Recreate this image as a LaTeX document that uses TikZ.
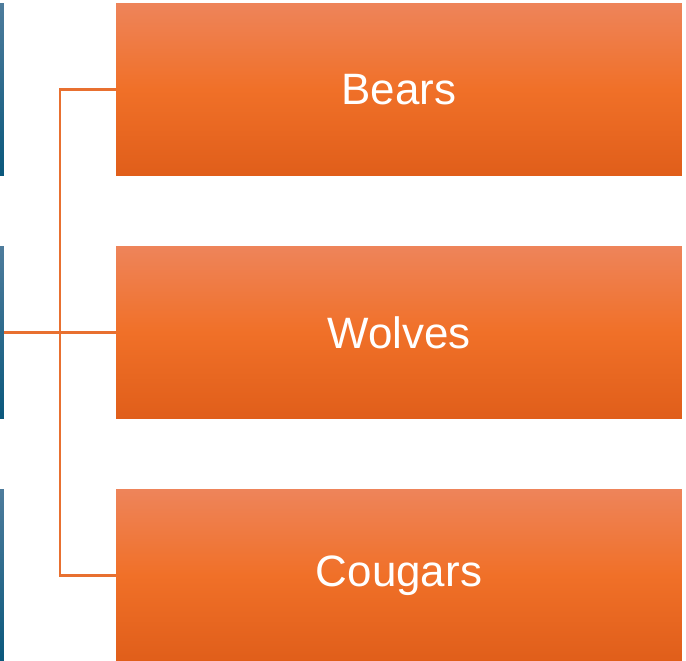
\documentclass[tikz,border=0pt]{standalone}
\usepackage{fontspec}
\setmainfont{Liberation Sans}
\usetikzlibrary{positioning}
\definecolor{orgtop}{RGB}{238,132,90}
\definecolor{orgmid}{RGB}{240,112,40}
\definecolor{orgbot}{RGB}{224,94,26}
\definecolor{bluetop}{RGB}{78,124,156}
\definecolor{bluebot}{RGB}{10,88,124}
\definecolor{linkcol}{RGB}{232,112,48}

\begin{document}
\begin{tikzpicture}[
    x=0.02cm, y=-0.02cm,
    orangebox/.style={rectangle, inner sep=0pt, minimum width=11.32cm, minimum height=3.46cm,
      top color=orgtop, bottom color=orgbot, middle color=orgmid,
      text=white, font=\fontsize{25}{30}\selectfont},
    bluebar/.style={rectangle, inner sep=0pt, minimum width=0.08cm, minimum height=3.46cm,
      top color=bluetop, bottom color=bluebot},
    linkline/.style={draw=linkcol, line width=1.3pt}]
  \useasboundingbox (0,0) rectangle (686,660);

  %% child boxes
  \node[orangebox] (bears)   at (399,89.5)  {Bears};
  \node[orangebox] (wolves)  at (399,332.5) {Wolves};
  \node[orangebox] (cougars) at (399,575.5) {Cougars};

  %% parent boxes cut off at the left edge
  \node[bluebar] (par1) at (2,89.5)  {};
  \node[bluebar] (par2) at (2,332.5) {};
  \node[bluebar] (par3) at (2,575.5) {};

  %% connectors
  \coordinate (fork) at (60,332);
  \draw[linkline] (par2.east) -- (wolves.west);
  \draw[linkline] (fork) |- (bears.west);
  \draw[linkline] (fork) |- (cougars.west);
\end{tikzpicture}
\end{document}
